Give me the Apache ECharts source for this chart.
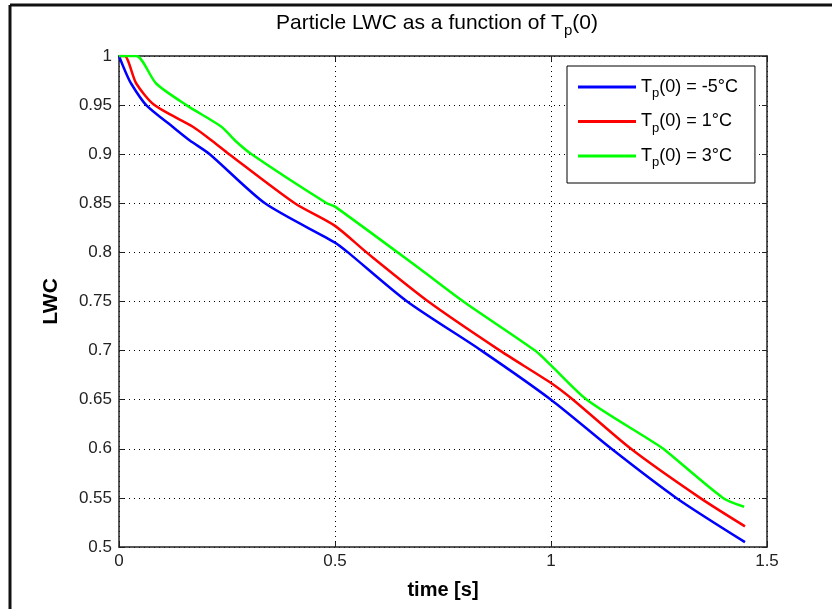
<!DOCTYPE html>
<html>
<head>
<meta charset="utf-8">
<script src="https://cdn.jsdelivr.net/npm/echarts@6/dist/echarts.min.js"></script>
<style>
  html, body { margin: 0; padding: 0; background: #fff; }
  #container { width: 832px; height: 609px; }
</style>
</head>
<body>
<div id="container"></div>
<script>
// values: [time (s), LWC]
var seriesNames = ['T_p(0) = -5°C', 'T_p(0) = 1°C', 'T_p(0) = 3°C'];
var blueData = [
    [0, 1.0], [0.013, 0.986], [0.028, 0.972], [0.063, 0.95], [0.124, 0.928],
    [0.164, 0.914], [0.21, 0.9], [0.338, 0.85], [0.5, 0.81], [0.53, 0.8],
    [0.667, 0.75], [0.839, 0.7], [1.0, 0.65], [1.14, 0.6], [1.29, 0.55], [1.449, 0.505]
];
var redData = [
    [0, 1.0], [0.013, 1.0], [0.04, 0.972], [0.082, 0.95], [0.171, 0.928],
    [0.2145, 0.914], [0.255, 0.9], [0.407, 0.85], [0.5, 0.827], [0.573, 0.8],
    [0.716, 0.75], [0.882, 0.7], [1.0, 0.667], [1.051, 0.65], [1.185, 0.6],
    [1.345, 0.55], [1.449, 0.521]
];
var greenData = [
    [0, 1.0], [0.04, 1.0], [0.086, 0.972], [0.156, 0.95], [0.237, 0.928],
    [0.2685, 0.914], [0.307, 0.9], [0.481, 0.85], [0.5, 0.8466], [0.697, 0.783],
    [0.797, 0.75], [0.963, 0.7], [1.0, 0.685], [1.083, 0.65], [1.229, 0.609],
    [1.26, 0.6], [1.398, 0.55], [1.447, 0.541]
];
var colors = ['#0000ff', '#ff0000', '#00ff00'];

var dom = document.getElementById('container');
var myChart = echarts.init(dom);
var font = 'Arial, "Liberation Sans", sans-serif';

function subName(name) {
    // "T_p(0) = ..." -> rich text with subscript p
    var rest = name.split('_p')[1];
    return '{t|T}{s|p}{t|' + rest + '}';
}

var dotted = { color: '#000', width: 1, type: [1, 4] };
var frame = { color: '#222', width: 1.5 };

var option = {
    backgroundColor: '#fff',
    textStyle: { fontFamily: font },
    title: {
        text: '{a|Particle LWC as a function of T}{b|p}{a|(0)}',
        left: 432,
        textAlign: 'center',
        top: 3,
        textStyle: {
            fontWeight: 'normal',
            rich: {
                a: { fontSize: 21, color: '#000', fontFamily: font, lineHeight: 30, fontWeight: 'normal' },
                b: { fontSize: 15, color: '#000', fontFamily: font, lineHeight: 15, verticalAlign: 'bottom', fontWeight: 'normal' }
            }
        }
    },
    grid: { left: 119, right: 65, top: 56, bottom: 62 },
    legend: {
        orient: 'vertical',
        left: 567,
        top: 66,
        padding: [12, 17, 14, 11],
        itemGap: 12.5,
        itemWidth: 58,
        itemHeight: 3,
        icon: 'rect',
        borderColor: '#000',
        borderWidth: 1,
        borderRadius: 0,
        backgroundColor: '#fff',
        data: seriesNames,
        formatter: subName,
        textStyle: {
            rich: {
                t: { fontSize: 18, color: '#000', fontFamily: font, lineHeight: 26 },
                s: { fontSize: 13, color: '#000', fontFamily: font, lineHeight: 14, verticalAlign: 'bottom' }
            }
        }
    },
    xAxis: [{
        type: 'value',
        min: 0,
        max: 1.5,
        interval: 0.5,
        name: 'time [s]',
        nameLocation: 'middle',
        nameGap: 33,
        nameMoveOverlap: false,
        nameTextStyle: { fontSize: 20, fontWeight: 'bold', color: '#000', fontFamily: font },
        axisLine: { show: true, onZero: false, lineStyle: frame },
        axisTick: { show: true, inside: true, length: 5, lineStyle: { color: '#222' } },
        axisLabel: { fontSize: 17, color: '#222', margin: 6, formatter: function (v) { return String(v); } },
        splitLine: { show: true, lineStyle: dotted }
    }, {
        type: 'value',
        position: 'top',
        min: 0,
        max: 1.5,
        interval: 0.5,
        axisLine: { show: true, onZero: false, lineStyle: frame },
        axisTick: { show: true, inside: true, length: 5, lineStyle: { color: '#222' } },
        axisLabel: { show: false },
        splitLine: { show: false }
    }],
    yAxis: [{
        type: 'value',
        min: 0.5,
        max: 1,
        interval: 0.05,
        name: 'LWC',
        nameLocation: 'middle',
        nameGap: 57,
        nameMoveOverlap: false,
        nameRotate: 90,
        nameTextStyle: { fontSize: 21, fontWeight: 'bold', color: '#000', fontFamily: font },
        axisLine: { show: true, onZero: false, lineStyle: frame },
        axisTick: { show: true, inside: true, length: 5, lineStyle: { color: '#222' } },
        axisLabel: { fontSize: 17, color: '#222', margin: 7, formatter: function (v) { return String(+v.toFixed(2)); } },
        splitLine: { show: true, lineStyle: dotted }
    }, {
        type: 'value',
        position: 'right',
        min: 0.5,
        max: 1,
        interval: 0.05,
        axisLine: { show: true, onZero: false, lineStyle: frame },
        axisTick: { show: true, inside: true, length: 5, lineStyle: { color: '#222' } },
        axisLabel: { show: false },
        splitLine: { show: false }
    }],
    graphic: [
        { type: 'line', shape: { x1: 10, y1: 5, x2: 832, y2: 5 }, style: { stroke: '#111', lineWidth: 3 } },
        { type: 'line', shape: { x1: 10, y1: 5, x2: 10, y2: 609 }, style: { stroke: '#111', lineWidth: 3 } }
    ],
    series: [
        { name: seriesNames[0], type: 'line', data: blueData, showSymbol: false, smooth: 0.25,
          itemStyle: { color: colors[0] }, lineStyle: { color: colors[0], width: 2.5 } },
        { name: seriesNames[1], type: 'line', data: redData, showSymbol: false, smooth: 0.25,
          itemStyle: { color: colors[1] }, lineStyle: { color: colors[1], width: 2.5 } },
        { name: seriesNames[2], type: 'line', data: greenData, showSymbol: false, smooth: 0.25,
          itemStyle: { color: colors[2] }, lineStyle: { color: colors[2], width: 2.5 } }
    ]
};
myChart.setOption(option);
</script>
</body>
</html>
